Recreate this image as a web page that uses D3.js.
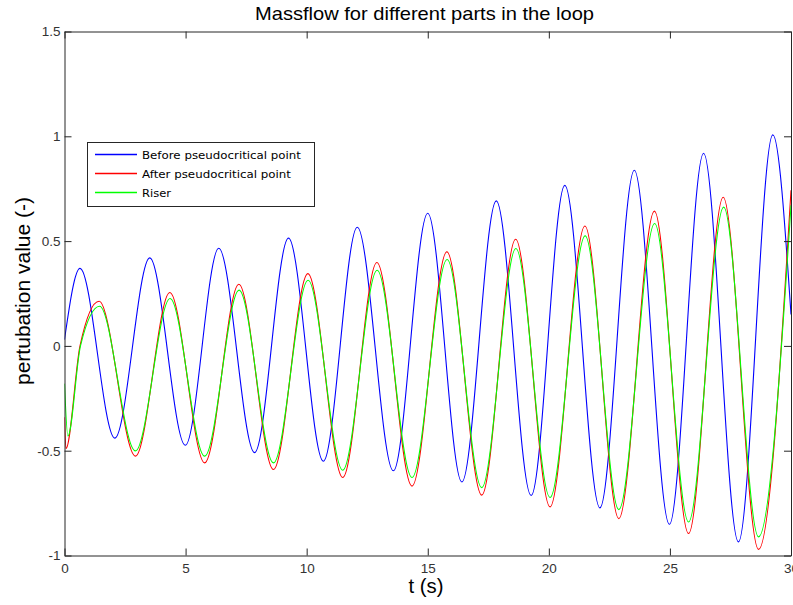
<!DOCTYPE html>
<html>
<head>
<meta charset="utf-8">
<script src="https://cdn.jsdelivr.net/npm/d3@7"></script>
<style>
  html, body { margin: 0; padding: 0; background: #ffffff; }
  svg { display: block; }
</style>
</head>
<body>
<svg id="chart" width="793" height="605"></svg>
<script>
// ---- data ----
const title = "Massflow for different parts in the loop";
const xLabel = "t (s)";
const yLabel = "pertubation value (-)";
const xTicks = [0, 5, 10, 15, 20, 25, 30];
const yTicks = [-1, -0.5, 0, 0.5, 1, 1.5];
const seriesNames = ["Before pseudocritical point", "After pseudocritical point", "Riser"];

const beforeT = [0, 0.64, 2.08, 3.52, 4.99, 6.37, 7.85, 9.25, 10.69, 12.09, 13.58, 15.0, 16.41, 17.83, 19.27, 20.66, 22.11, 23.53, 24.98, 26.39, 27.83, 29.25, 30];
const beforeV = [0.03, 0.37, -0.44, 0.42, -0.474, 0.466, -0.509, 0.514, -0.55, 0.566, -0.596, 0.633, -0.649, 0.692, -0.714, 0.766, -0.773, 0.838, -0.851, 0.919, -0.935, 1.007, 0.15];

const afterT = [0, 0.06, 0.64, 1.43, 2.93, 4.35, 5.79, 7.2, 8.63, 10.05, 11.49, 12.9, 14.35, 15.79, 17.23, 18.63, 20.05, 21.49, 22.89, 24.36, 25.77, 27.2, 28.66, 30];
const afterV = [-0.34, -0.49, 0.0, 0.213, -0.526, 0.255, -0.558, 0.294, -0.59, 0.345, -0.628, 0.398, -0.669, 0.449, -0.712, 0.509, -0.768, 0.572, -0.824, 0.643, -0.895, 0.709, -0.971, 0.743];

const riserT = [0, 0.14, 0.66, 1.45, 2.93, 4.36, 5.79, 7.21, 8.63, 10.06, 11.49, 12.91, 14.35, 15.8, 17.23, 18.64, 20.05, 21.5, 22.89, 24.37, 25.77, 27.22, 28.66, 30];
const riserV = [-0.18, -0.43, 0.0, 0.189, -0.501, 0.226, -0.526, 0.266, -0.558, 0.313, -0.593, 0.361, -0.628, 0.412, -0.676, 0.465, -0.723, 0.525, -0.781, 0.584, -0.84, 0.662, -0.911, 0.671];

const seriesColors = ["#0000ff", "#ff0000", "#00ff00"];

// ---- layout ----
const svg = d3.select("#chart");
const pLeft = 64.5, pRight = 791, pTop = 31.5, pBottom = 555.5;
const x = d3.scaleLinear().domain([0, 30]).range([pLeft, pRight]);
const y = d3.scaleLinear().domain([-1, 1.5]).range([pBottom, pTop]);
const axisColor = "#262626";
const tickLen = 7;
const sans = "Arial, 'Liberation Sans', Helvetica, sans-serif";

svg.append("defs").append("clipPath").attr("id", "clip")
  .append("rect").attr("x", pLeft).attr("y", pTop - 2).attr("width", pRight - pLeft).attr("height", pBottom - pTop + 4);

// lines
const line = d3.line().x(d => x(d[0])).y(d => y(d[1])).curve(d3.curveMonotoneX);
const allSeries = [
  d3.zip(beforeT, beforeV),
  d3.zip(afterT, afterV),
  d3.zip(riserT, riserV)
];
const lines = svg.append("g").attr("clip-path", "url(#clip)");
allSeries.forEach((s, i) => {
  lines.append("path").datum(s).attr("d", line)
    .attr("fill", "none").attr("stroke", seriesColors[i]).attr("stroke-width", 1.1);
});

// axes (MATLAB box with inward ticks)
const fmt = d => String(d);
const bottomAxis = d3.axisBottom(x).tickValues(xTicks).tickSize(-tickLen).tickSizeOuter(0).tickPadding(8).tickFormat(fmt);
const topAxis = d3.axisTop(x).tickValues(xTicks).tickSize(-tickLen).tickSizeOuter(0).tickFormat("");
const leftAxis = d3.axisLeft(y).tickValues(yTicks).tickSize(-tickLen).tickSizeOuter(0).tickPadding(4).tickFormat(fmt);
const rightAxis = d3.axisRight(y).tickValues(yTicks).tickSize(-tickLen).tickSizeOuter(0).tickFormat("");

function styleAxis(g) {
  g.select(".domain").attr("stroke", axisColor).attr("stroke-width", 1);
  g.selectAll(".tick line").attr("stroke", axisColor).attr("stroke-width", 1);
  g.selectAll(".tick text").attr("fill", "#333333").style("font-family", sans).style("font-size", "13.5px");
}
svg.append("g").attr("transform", `translate(0,${pBottom})`).call(bottomAxis).call(styleAxis);
svg.append("g").attr("transform", `translate(0,${pTop})`).call(topAxis).call(styleAxis);
svg.append("g").attr("transform", `translate(${pLeft},0)`).call(leftAxis).call(styleAxis);
svg.append("g").attr("transform", `translate(${pRight},0)`).call(rightAxis).call(styleAxis);

// title & labels
svg.append("text").attr("x", 424.5).attr("y", 20).attr("text-anchor", "middle")
  .style("font-family", sans).style("font-size", "18.5px").attr("fill", "#000")
  .attr("textLength", 339).attr("lengthAdjust", "spacingAndGlyphs")
  .text(title);
svg.append("text").attr("x", 426).attr("y", 593).attr("text-anchor", "middle")
  .style("font-family", sans).style("font-size", "20px").attr("fill", "#000")
  .attr("textLength", 35).attr("lengthAdjust", "spacingAndGlyphs")
  .text(xLabel);
svg.append("text").attr("transform", "translate(30,291) rotate(-90)").attr("text-anchor", "middle")
  .style("font-family", sans).style("font-size", "20px").attr("fill", "#000")
  .attr("textLength", 188).attr("lengthAdjust", "spacingAndGlyphs")
  .text(yLabel);

// legend
const legendWidths = [159, 149, 29];
const lg = svg.append("g");
lg.append("rect").attr("x", 87.5).attr("y", 142.5).attr("width", 227).attr("height", 64)
  .attr("fill", "#ffffff").attr("stroke", axisColor).attr("stroke-width", 1);
seriesNames.forEach((name, i) => {
  const yy = 154.5 + i * 19;
  lg.append("line").attr("x1", 95).attr("x2", 137).attr("y1", yy).attr("y2", yy)
    .attr("stroke", seriesColors[i]).attr("stroke-width", 1.3);
  lg.append("text").attr("x", 142).attr("y", yy + 4).attr("fill", "#000")
    .style("font-family", "'DejaVu Sans', 'Noto Sans', sans-serif").style("font-size", "11px")
    .attr("textLength", legendWidths[i]).attr("lengthAdjust", "spacingAndGlyphs")
    .text(name);
});
</script>
</body>
</html>
